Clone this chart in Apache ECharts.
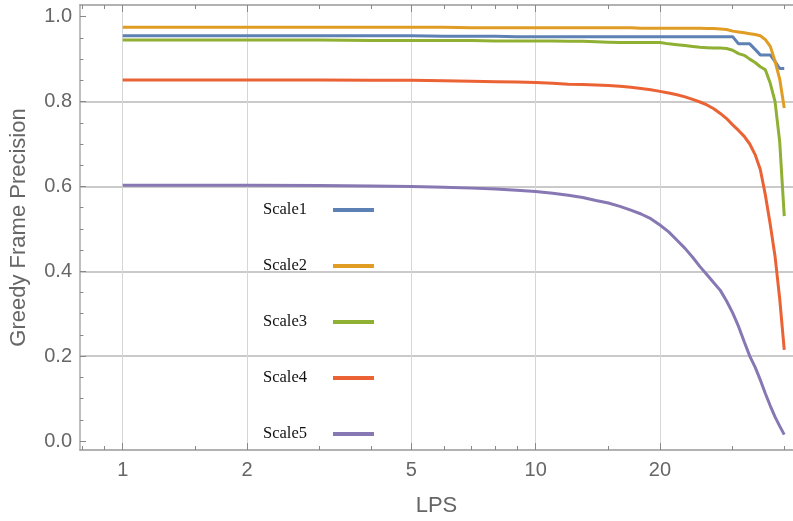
<!DOCTYPE html>
<html>
<head>
<meta charset="utf-8">
<script src="https://cdn.jsdelivr.net/npm/echarts@6/dist/echarts.min.js"></script>
<style>html,body{margin:0;padding:0;background:#fff}#chart{width:793px;height:521px}</style>
</head>
<body>
<div id="chart"></div>
<script>
const lps = [1,2,3,4,5,6,7,8,9,10,11,12,13,14,15,16,17,18,19,20,21,22,23,24,25,26,27,28,29,30,31,32,33,34,35,36,37,38,39,40];
const scale1 = [0.955,0.955,0.955,0.955,0.955,0.954,0.954,0.954,0.953,0.953,0.953,0.953,0.953,0.953,0.953,0.953,0.953,0.953,0.953,0.953,0.953,0.953,0.953,0.953,0.953,0.953,0.953,0.953,0.953,0.953,0.936,0.936,0.936,0.923,0.910,0.910,0.910,0.894,0.878,0.878];
const scale2 = [0.975,0.975,0.975,0.975,0.975,0.975,0.974,0.974,0.974,0.974,0.974,0.974,0.974,0.974,0.974,0.974,0.974,0.973,0.973,0.973,0.973,0.973,0.973,0.973,0.973,0.972,0.972,0.971,0.970,0.966,0.964,0.962,0.960,0.958,0.955,0.946,0.930,0.895,0.853,0.785];
const scale3 = [0.945,0.945,0.945,0.944,0.944,0.944,0.944,0.943,0.943,0.943,0.943,0.942,0.942,0.941,0.940,0.939,0.939,0.939,0.939,0.939,0.936,0.934,0.932,0.930,0.928,0.927,0.926,0.926,0.925,0.921,0.913,0.909,0.900,0.892,0.882,0.875,0.843,0.800,0.705,0.530];
const scale4 = [0.851,0.851,0.851,0.850,0.850,0.849,0.848,0.847,0.846,0.845,0.843,0.841,0.840,0.839,0.838,0.836,0.834,0.831,0.828,0.824,0.820,0.816,0.811,0.805,0.799,0.792,0.783,0.772,0.760,0.745,0.732,0.718,0.700,0.675,0.640,0.580,0.510,0.435,0.335,0.215];
const scale5 = [0.603,0.603,0.602,0.601,0.600,0.598,0.596,0.594,0.591,0.588,0.584,0.579,0.574,0.567,0.561,0.553,0.544,0.535,0.524,0.509,0.493,0.473,0.454,0.433,0.411,0.392,0.373,0.355,0.330,0.302,0.270,0.234,0.200,0.174,0.144,0.112,0.083,0.057,0.035,0.015];
const seriesNames = ['Scale1','Scale2','Scale3','Scale4','Scale5'];
const xMajorTicks = [1,2,5,10,20];
const xMinorTicks = [0.8,0.9,1.5,3,4,6,7,8,9,15,30,40];
const yMajorTicks = [0,0.2,0.4,0.6,0.8,1.0];
const yMinorTicks = [0.05,0.1,0.15,0.25,0.3,0.35,0.45,0.5,0.55,0.65,0.7,0.75,0.85,0.9,0.95];
const yGridLines = [0.2,0.4,0.6,0.8];

const colors = ['#5E81B5','#E19C24','#8FB032','#EB6235','#8778B3'];
const allSeries = [scale1,scale2,scale3,scale4,scale5];
const XMIN = 0.788, XMAX = 42, YMIN = -0.0212, YMAX = 1.0276;

function xAxisBase(pos){
  return {type:'log', position:pos, min:XMIN, max:XMAX, gridIndex:0,
    axisLine:{show:false, onZero:false}, axisTick:{show:false}, axisLabel:{show:false}, splitLine:{show:false}, minorTick:{show:false}};
}
const ax0 = xAxisBase('bottom');
ax0.axisLine = {show:true, onZero:false, lineStyle:{color:'#999', width:1.5}};
ax0.axisTick = {show:true, inside:true, length:7, customValues:xMajorTicks, lineStyle:{color:'#888'}};
ax0.axisLabel = {show:true, customValues:xMajorTicks, margin:10, fontSize:20, color:'#666', fontFamily:'Liberation Sans', formatter:v=>String(Math.round(v))};
ax0.splitLine = {show:true, lineStyle:{color:'#d6d6d6', width:1}};
ax0.name = 'LPS'; ax0.nameLocation='middle'; ax0.nameGap=45;
ax0.nameTextStyle = {fontSize:22, color:'#666', fontFamily:'Liberation Sans'};
const ax1 = xAxisBase('bottom');
ax1.axisTick = {show:true, inside:true, length:4, customValues:xMinorTicks, lineStyle:{color:'#888'}};
const ax2 = xAxisBase('top');
ax2.axisLine = {show:true, onZero:false, lineStyle:{color:'#999', width:1.5}};
ax2.axisTick = {show:true, inside:true, length:7, customValues:xMajorTicks, lineStyle:{color:'#888'}};
const ax3 = xAxisBase('top');
ax3.axisTick = {show:true, inside:true, length:4, customValues:xMinorTicks, lineStyle:{color:'#888'}};

function yAxisBase(){
  return {type:'value', position:'left', min:YMIN, max:YMAX, gridIndex:0,
    axisLine:{show:false, onZero:false}, axisTick:{show:false}, axisLabel:{show:false}, splitLine:{show:false}};
}
const ay0 = yAxisBase();
ay0.axisLine = {show:true, onZero:false, lineStyle:{color:'#aaa', width:1.5}};
ay0.axisTick = {show:true, inside:true, length:6, customValues:yMajorTicks, lineStyle:{color:'#888'}};
ay0.axisLabel = {show:true, customValues:yMajorTicks, margin:8, fontSize:20, color:'#666', fontFamily:'Liberation Sans', formatter:v=>v.toFixed(1)};
ay0.name = 'Greedy Frame Precision'; ay0.nameLocation='middle'; ay0.nameGap=50;
ay0.nameTextStyle = {fontSize:22, color:'#666', fontFamily:'Liberation Sans'};
const ay1 = yAxisBase();
ay1.axisTick = {show:true, inside:true, length:3.5, customValues:yMinorTicks, lineStyle:{color:'#888'}};
const ay2 = yAxisBase();
ay2.axisTick = {show:false, customValues:yGridLines};
ay2.splitLine = {show:true, customValues:yGridLines, lineStyle:{color:'#cacaca', width:1.8}};

const option = {
  animation:false,
  backgroundColor:'#fff',
  grid:{left:80, right:0, top:5, bottom:71, containLabel:false, outerBoundsMode:'none'},
  xAxis:[ax0, ax1, ax2, ax3],
  yAxis:[ay0, ay1, ay2],
  legend:{
    orient:'vertical', left:263, top:200, padding:0, align:'right',
    itemWidth:41, itemHeight:4, itemGap:36, icon:'rect',
    data:seriesNames,
    textStyle:{fontFamily:'Liberation Serif', fontSize:16.5, color:'#111', lineHeight:20, padding:[0,21,0,0]}
  },
  series: seriesNames.map((name,i)=>({
    name, type:'line', xAxisIndex:0, yAxisIndex:0, showSymbol:false, symbol:'none',
    color:colors[i], lineStyle:{color:colors[i], width:3},
    data: lps.map((x,j)=>[x, allSeries[i][j]])
  }))
};
const chart = echarts.init(document.getElementById('chart'), null, {renderer:'canvas'});
chart.setOption(option);
</script>
</body>
</html>
